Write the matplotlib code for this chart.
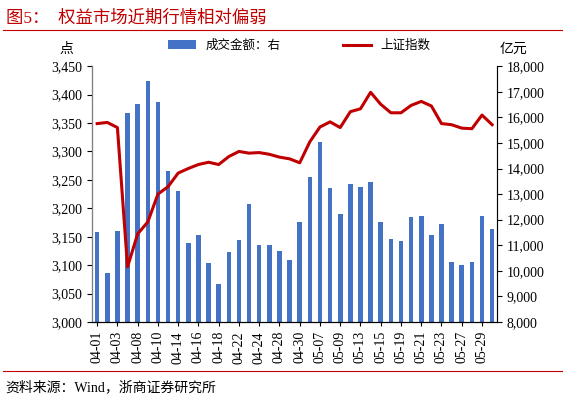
import matplotlib
matplotlib.use("Agg")
import matplotlib.pyplot as plt
import numpy as np

plt.rcParams['font.family'] = ['Liberation Serif', 'Noto Sans CJK SC']

dates = ["04-01", "04-02", "04-03", "04-07", "04-08", "04-09", "04-10", "04-11", "04-14", "04-15",
         "04-16", "04-17", "04-18", "04-21", "04-22", "04-23", "04-24", "04-25", "04-28", "04-29",
         "04-30", "05-06", "05-07", "05-08", "05-09", "05-12", "05-13", "05-14", "05-15", "05-16",
         "05-19", "05-20", "05-21", "05-22", "05-23", "05-26", "05-27", "05-28", "05-29", "05-30"]
turnover = [11520, 9930, 11570, 16170, 16530, 17410, 16580, 13910, 13140, 11100,
            11420, 10310, 9490, 10720, 11220, 12620, 11020, 11020, 10760, 10410,
            11920, 13650, 15050, 13220, 12220, 13410, 13270, 13490, 11900, 11250,
            11180, 12120, 12150, 11390, 11820, 10350, 10240, 10350, 12130, 11650]
sse = [3349, 3351, 3342, 3097, 3155, 3176, 3225, 3238, 3262, 3270,
       3277, 3281, 3277, 3291, 3300, 3297, 3298, 3295, 3290, 3287,
       3280, 3317, 3343, 3352, 3342, 3370, 3375, 3404, 3383, 3368,
       3368, 3381, 3388, 3380, 3349, 3347, 3341, 3340, 3364, 3347]

red = "#c00000"
fig = plt.figure(figsize=(5.65, 4.01), dpi=100)
ax = fig.add_axes([0.163, 0.197, 0.717, 0.638])
ax2 = ax.twinx()
x = np.arange(len(dates))

ax2.bar(x, np.array(turnover) - 8000, bottom=8000, width=0.45, color="#4472c4", label="成交金额：右")
ax.plot(x, sse, color=red, lw=2.2, label="上证指数")
ax.set_zorder(ax2.get_zorder() + 1)
ax.patch.set_visible(False)

ax.set_ylim(3000, 3450)
ax.set_yticks(np.arange(3000, 3451, 50))
ax.set_yticklabels([f"{v:,}" for v in range(3000, 3451, 50)])
ax2.set_ylim(8000, 18000)
ax2.set_yticks(np.arange(8000, 18001, 1000))
ax2.set_yticklabels([f"{v:,}" for v in range(8000, 18001, 1000)])
ax.set_xlim(-0.5, len(dates) - 0.5)
ax.set_xticks(x[::2])
ax.set_xticklabels(dates[::2], rotation=90)
ax.tick_params(axis='x', length=3, labelsize=10)
ax.tick_params(axis='y', labelsize=10)
ax2.tick_params(axis='y', labelsize=10)
for a in (ax, ax2):
    a.spines['top'].set_visible(False)
ax.spines['left'].set_color("#808080")
ax2.spines['right'].set_color("#808080")

fig.text(0.105, 0.868, "点", fontsize=10)
fig.text(0.885, 0.868, "亿元", fontsize=10)

h1, l1 = ax2.get_legend_handles_labels()
h2, l2 = ax.get_legend_handles_labels()
fig.legend(h1 + h2, l1 + l2, loc="center", bbox_to_anchor=(0.53, 0.885), ncol=2,
           frameon=False, fontsize=9, columnspacing=5, handlelength=2.2)

fig.text(0.01, 0.955, "图5：  权益市场近期行情相对偏弱", fontsize=12.5, color=red, va="center")
fig.add_artist(plt.Line2D([0.005, 0.995], [0.925, 0.925], color=red, lw=0.8))
fig.add_artist(plt.Line2D([0.005, 0.995], [0.075, 0.075], color=red, lw=0.8))
fig.text(0.01, 0.035, "资料来源：Wind，浙商证券研究所", fontsize=10, va="center")

fig.savefig("out.png", dpi=100)
